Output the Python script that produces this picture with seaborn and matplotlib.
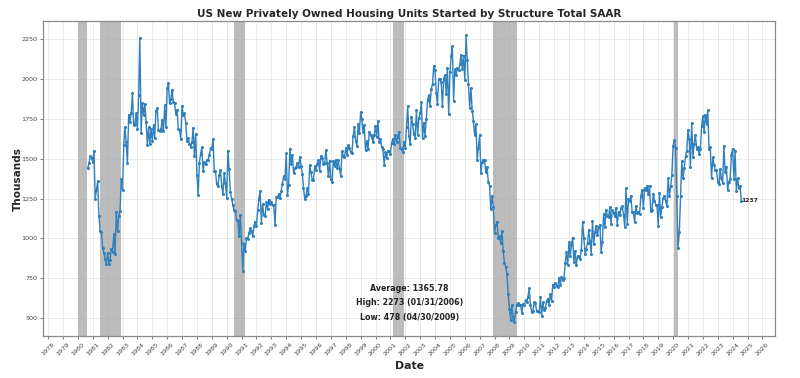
import matplotlib
matplotlib.use('Agg')
import matplotlib.pyplot as plt
import matplotlib.dates as mdates
import seaborn as sns
import pandas as pd

# Monthly housing starts (thousands, SAAR), Aug 1980 .. Jul 2024
y1980 = [1444, 1473, 1519, 1504, 1482]
y1981 = [1547, 1246, 1306, 1360, 1140, 1045, 1041, 940, 911, 873, 837, 910]
y1982 = [843, 866, 931, 917, 1025, 902, 1166, 1046, 1144, 1173, 1372, 1303]
y1983 = [1586, 1699, 1606, 1472, 1776, 1733, 1785, 1910, 1710, 1715, 1785, 1688]
y1984 = [1897, 2260, 1663, 1851, 1774, 1843, 1732, 1586, 1698, 1590, 1689, 1612]
y1985 = [1711, 1632, 1800, 1821, 1680, 1676, 1684, 1743, 1676, 1834, 1698, 1942]
y1986 = [1972, 1848, 1876, 1933, 1854, 1847, 1782, 1807, 1687, 1681, 1623, 1833]
y1987 = [1774, 1784, 1726, 1614, 1628, 1594, 1575, 1605, 1695, 1515, 1656, 1400]
y1988 = [1271, 1473, 1532, 1573, 1421, 1478, 1467, 1493, 1492, 1522, 1569, 1563]
y1989 = [1621, 1425, 1422, 1339, 1331, 1397, 1427, 1332, 1279, 1410, 1351, 1251]
y1990 = [1551, 1437, 1289, 1248, 1212, 1177, 1171, 1115, 1110, 1014, 1145, 969]
y1991 = [798, 965, 921, 1001, 996, 1036, 1063, 1049, 1015, 1079, 1103, 1079]
y1992 = [1176, 1250, 1297, 1099, 1214, 1145, 1139, 1226, 1186, 1244, 1214, 1227]
y1993 = [1210, 1210, 1083, 1258, 1260, 1280, 1254, 1300, 1343, 1392, 1376, 1533]
y1994 = [1272, 1337, 1564, 1465, 1526, 1409, 1439, 1450, 1474, 1450, 1511, 1455]
y1995 = [1407, 1316, 1249, 1267, 1314, 1281, 1461, 1416, 1369, 1369, 1452, 1431]
y1996 = [1467, 1491, 1424, 1516, 1504, 1467, 1472, 1557, 1475, 1392, 1489, 1370]
y1997 = [1355, 1486, 1457, 1492, 1442, 1494, 1437, 1390, 1546, 1520, 1510, 1566]
y1998 = [1525, 1584, 1567, 1540, 1536, 1641, 1698, 1614, 1582, 1715, 1660, 1792]
y1999 = [1748, 1670, 1710, 1553, 1611, 1559, 1669, 1648, 1635, 1608, 1648, 1708]
y2000 = [1636, 1737, 1604, 1626, 1575, 1559, 1463, 1541, 1507, 1549, 1551, 1532]
y2001 = [1600, 1625, 1590, 1649, 1605, 1636, 1670, 1567, 1562, 1540, 1602, 1568]
y2002 = [1698, 1829, 1642, 1592, 1764, 1717, 1655, 1633, 1804, 1648, 1753, 1788]
y2003 = [1853, 1629, 1726, 1643, 1751, 1867, 1897, 1833, 1939, 1967, 2083, 2057]
y2004 = [1911, 1846, 1998, 2003, 1981, 1828, 2002, 2024, 1905, 2072, 1782, 2042]
y2005 = [2144, 2207, 1864, 2061, 2025, 2068, 2054, 2095, 2151, 2065, 2147, 1994]
y2006 = [2273, 2119, 1969, 1821, 1942, 1802, 1737, 1650, 1720, 1491, 1570, 1649]
y2007 = [1409, 1480, 1495, 1490, 1415, 1448, 1354, 1330, 1183, 1264, 1197, 1037]
y2008 = [1084, 1103, 1005, 1013, 973, 1046, 923, 844, 820, 777, 652, 560]
y2009 = [490, 582, 505, 478, 540, 585, 594, 586, 585, 534, 588, 581]
y2010 = [614, 604, 636, 687, 583, 536, 546, 599, 594, 543, 545, 539]
y2011 = [630, 517, 600, 554, 561, 608, 623, 585, 650, 611, 711, 694]
y2012 = [723, 704, 695, 753, 708, 757, 740, 754, 847, 915, 833, 976]
y2013 = [888, 962, 1005, 853, 919, 835, 891, 883, 873, 930, 1105, 1003]
y2014 = [902, 936, 969, 1052, 985, 905, 1108, 964, 1039, 1081, 1019, 1072]
y2015 = [1085, 917, 977, 1155, 1070, 1180, 1140, 1133, 1197, 1091, 1181, 1162]
y2016 = [1138, 1191, 1087, 1169, 1146, 1190, 1202, 1149, 1075, 1314, 1092, 1248]
y2017 = [1236, 1269, 1166, 1164, 1103, 1205, 1162, 1167, 1155, 1265, 1305, 1192]
y2018 = [1317, 1307, 1327, 1276, 1332, 1173, 1180, 1281, 1237, 1212, 1209, 1081]
y2019 = [1288, 1136, 1198, 1251, 1265, 1236, 1203, 1377, 1265, 1326, 1396, 1580]
y2020 = [1617, 1567, 1269, 938, 1038, 1265, 1485, 1377, 1444, 1516, 1551, 1680]
y2021 = [1625, 1447, 1725, 1514, 1594, 1650, 1562, 1573, 1530, 1563, 1706, 1768]
y2022 = [1666, 1777, 1716, 1805, 1562, 1574, 1377, 1508, 1463, 1432, 1427, 1357]
y2023 = [1340, 1436, 1380, 1348, 1583, 1418, 1451, 1305, 1356, 1376, 1525, 1562]
y2024 = [1376, 1546, 1299, 1377, 1315, 1329, 1237]

start_date = '1980-08-31'
average_value = 1365.78

# NBER recessions
recessions = [('1980-01-01', '1980-07-31'), ('1981-07-01', '1982-11-30'),
              ('1990-07-01', '1991-03-31'), ('2001-03-01', '2001-11-30'),
              ('2007-12-01', '2009-06-30'), ('2020-02-01', '2020-04-30')]

values = (y1980 + y1981 + y1982 + y1983 + y1984 + y1985 + y1986 + y1987 + y1988 + y1989
          + y1990 + y1991 + y1992 + y1993 + y1994 + y1995 + y1996 + y1997 + y1998 + y1999
          + y2000 + y2001 + y2002 + y2003 + y2004 + y2005 + y2006 + y2007 + y2008 + y2009
          + y2010 + y2011 + y2012 + y2013 + y2014 + y2015 + y2016 + y2017 + y2018 + y2019
          + y2020 + y2021 + y2022 + y2023 + y2024)
df = pd.DataFrame({'Date': pd.date_range(start_date, periods=len(values), freq='ME'),
                   'Value': values})

sns.set_style('whitegrid')
plt.rcParams['font.family'] = ['DejaVu Sans']

fig = plt.figure(figsize=(8, 3.78), dpi=100)
ax = fig.add_axes([0.054, 0.111, 0.915, 0.833])

for s, e in recessions:
    ax.axvspan(pd.Timestamp(s), pd.Timestamp(e), color='#a6a6a6', alpha=0.75, lw=0, zorder=1)

sns.lineplot(data=df, x='Date', y='Value', marker='o', markersize=2.2, linewidth=1,
             color='#2f80bd', markeredgewidth=0, ax=ax, zorder=3)

# last value label
last = df.iloc[-1]
ax.text(last['Date'], last['Value'], f"{int(last['Value'])}", fontsize=4.3, fontweight='bold',
        va='center', ha='left', color='#222222')

hi = df.loc[df['Value'].idxmax()]
lo = df.loc[df['Value'].idxmin()]
ax.text(0.5, 0.150, f"Average: {average_value:.2f}", transform=ax.transAxes,
        ha='center', va='center', fontsize=5.7, fontweight='bold', color='#222222')
ax.text(0.5, 0.105, f"High: {int(hi['Value'])} ({hi['Date']:%m/%d/%Y})", transform=ax.transAxes,
        ha='center', va='center', fontsize=5.7, fontweight='bold', color='#222222')
ax.text(0.5, 0.058, f"Low: {int(lo['Value'])} ({lo['Date']:%m/%d/%Y})", transform=ax.transAxes,
        ha='center', va='center', fontsize=5.7, fontweight='bold', color='#222222')

ax.set_xlim(pd.Timestamp('1977-09-01'), pd.Timestamp('2026-11-10'))
ax.xaxis.set_major_locator(mdates.YearLocator(1))
ax.xaxis.set_major_formatter(mdates.DateFormatter('%Y'))
plt.setp(ax.get_xticklabels(), rotation=45, fontsize=4.6, color='#444444')
plt.setp(ax.get_yticklabels(), fontsize=4.6, color='#444444')
ax.tick_params(axis='both', length=2, width=0.6, color='#666666', bottom=True, left=True, pad=2)

ax.grid(True, color='#e6e6e6', linewidth=0.6)
for sp in ax.spines.values():
    sp.set_color('#8a8a8a')
    sp.set_linewidth(0.9)

ax.set_title('US New Privately Owned Housing Units Started by Structure Total SAAR',
             fontsize=7.5, fontweight='bold', pad=3)
ax.set_xlabel('Date', fontsize=7.8, fontweight='bold', labelpad=3)
ax.set_ylabel('Thousands', fontsize=7.6, fontweight='bold')
ax.yaxis.set_label_coords(-0.028, 0.5)

fig.savefig('out.png', dpi=100)
